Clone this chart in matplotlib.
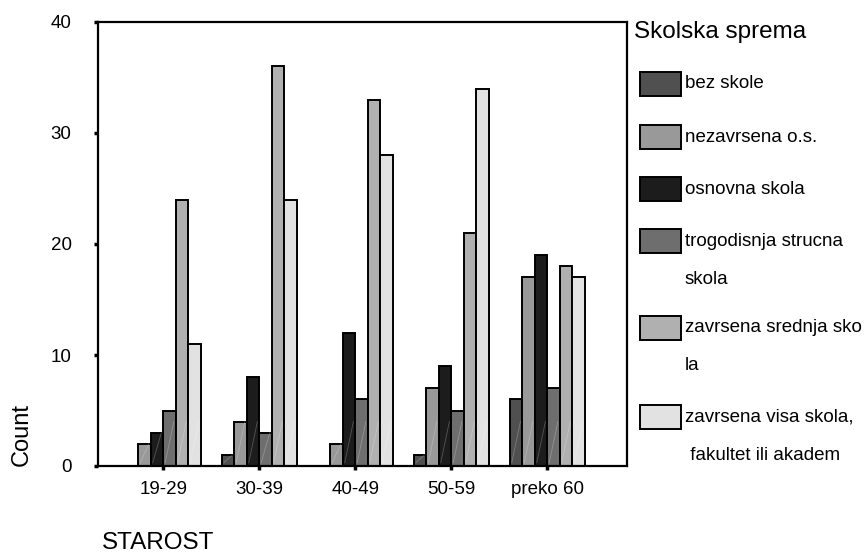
import matplotlib
matplotlib.use("Agg")
import matplotlib.pyplot as plt
from matplotlib.patches import Rectangle
import numpy as np

plt.rcParams['font.family'] = ['Liberation Sans', 'DejaVu Sans']

categories = ["19-29", "30-39", "40-49", "50-59", "preko 60"]
series_names = ["bez skole", "nezavrsena o.s.", "osnovna skola",
                "trogodisnja strucna\nskola", "zavrsena srednja sko\nla",
                "zavrsena visa skola,\n fakultet ili akadem"]
bez_skole = [0, 1, 0, 1, 6]
nezavrsena_os = [2, 4, 2, 7, 17]
osnovna_skola = [3, 8, 12, 9, 19]
trogodisnja = [5, 3, 6, 5, 7]
srednja = [24, 36, 33, 21, 18]
visa = [11, 24, 28, 34, 17]
series = [bez_skole, nezavrsena_os, osnovna_skola, trogodisnja, srednja, visa]
colors = ["#505050", "#999999", "#1c1c1c", "#6e6e6e", "#b0b0b0", "#e2e2e2"]
yticks = [0, 10, 20, 30, 40]

W, H = 867, 556
fig = plt.figure(figsize=(W / 100, H / 100), dpi=100)
ax = fig.add_axes([98 / W, 1 - 466 / H, (627 - 98) / W, (466 - 22) / H])

x = np.arange(len(categories))
bw = 0.13
for i, (vals, c) in enumerate(zip(series, colors)):
    pos = x + (i - 2.5) * bw
    ax.bar(pos, vals, width=bw, color=c, edgecolor="black", linewidth=1.4, zorder=2)
    for p, v in zip(pos, vals):
        if v > 0:
            top = min(v, 4.0)
            ax.plot([p - bw / 2 + 0.02, p + bw / 2 - 0.02], [0.3, top],
                    color="white", alpha=0.25, linewidth=0.6, zorder=3)

ax.set_xlim(-0.68, 4.83)
ax.set_ylim(0, 40)
ax.set_xticks(x)
ax.set_xticklabels(categories, fontsize=13.5)
ax.set_yticks(yticks)
ax.set_yticklabels([str(t) for t in yticks], fontsize=13.5)
ax.tick_params(axis='both', length=3, width=2.5, color='black')
ax.tick_params(axis='y', pad=16)
ax.tick_params(axis='x', pad=8)
for s in ax.spines.values():
    s.set_linewidth(1.6)
    s.set_color("black")

fig.text(22 / W, 1 - 434 / H, "Count", rotation=90, ha='center', va='center', fontsize=17)
fig.text(102 / W, 1 - 543 / H, "STAROST", ha='left', va='center', fontsize=17.5)

# legend
fig.text(634 / W, 1 - 32 / H, "Skolska sprema", ha='left', va='center', fontsize=17.5)
rows = [84, 137, 189, 241, 328, 417]
for name, c, yc in zip(series_names, colors, rows):
    r = Rectangle((640 / W, 1 - (yc + 12) / H), 41 / W, 24 / H, transform=fig.transFigure,
                  facecolor=c, edgecolor="black", linewidth=1.4)
    fig.add_artist(r)
    for k, ln in enumerate(name.split("\n")):
        fig.text(685 / W, 1 - (yc + k * 38) / H, ln, ha='left', va='center', fontsize=13.5)

fig.savefig("out.png", dpi=100)
